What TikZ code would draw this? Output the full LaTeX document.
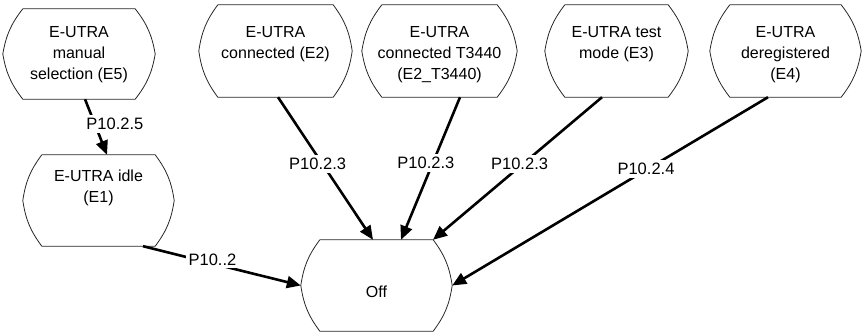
\documentclass[tikz,border=0pt]{standalone}
\usepackage{fontspec}
\setmainfont{Liberation Sans}
\usetikzlibrary{positioning, arrows.meta}

% outline of a state: flat top and bottom, bulging sides
\newcommand{\stateshape}[2]{%
  \draw[outline] ([xshift=#2]#1.north west) -- ([xshift=-#2]#1.north east)
    to[bend left=14] (#1.east) to[bend left=14] ([xshift=-#2]#1.south east)
    -- ([xshift=#2]#1.south west) to[bend left=14] (#1.west)
    to[bend left=14] ([xshift=#2]#1.north west);}

\begin{document}
\begin{tikzpicture}[
    x=1pt, y=-1pt,
    state/.style={inner sep=0pt, minimum height=91pt},
    outline/.style={line width=0.8pt, draw=black!85, line join=round},
    txt/.style={font=\fontsize{16}{21}\selectfont, align=center, anchor=north, inner sep=0pt},
    lbl/.style={font=\fontsize{16.5}{20}\selectfont, fill=white, inner sep=3pt},
    arr/.style={-{Triangle[length=14pt, width=12pt]}, line width=2.6pt}
]
\useasboundingbox (0,0) rectangle (862,333);

\node[state, minimum width=152pt, minimum height=90pt] (e5)  at (79,54) {};
\node[state, minimum width=151pt]                     (e1)  at (98.5,200.5) {};
\node[state, minimum width=153pt, minimum height=92pt] (e2)  at (275.5,51) {};
\node[state, minimum width=155pt, minimum height=92pt] (e2t) at (439.5,51) {};
\node[state, minimum width=143pt, minimum height=92pt] (e3)  at (616.5,51) {};
\node[state, minimum width=151pt, minimum height=92pt] (e4)  at (785.5,51) {};
\node[state, minimum width=151pt]                     (off) at (376.5,285.5) {};

\stateshape{e5}{20pt}
\stateshape{e1}{19pt}
\stateshape{e2}{19pt}
\stateshape{e2t}{20pt}
\stateshape{e3}{20pt}
\stateshape{e4}{20pt}
\stateshape{off}{19pt}

\node[txt, below=17pt of e5.north]  (e5txt)  {E-UTRA\\manual\\selection (E5)};
\node[txt, below=15pt of e1.north]  (e1txt)  {E-UTRA idle\\(E1)};
\node[txt, below=21pt of e2.north]  (e2txt)  {E-UTRA\\connected (E2)};
\node[txt, below=21pt of e2t.north] (e2ttxt) {E-UTRA\\connected T3440\\(E2\_T3440)};
\node[txt, below=21pt of e3.north]  (e3txt)  {E-UTRA test\\mode (E3)};
\node[txt, below=21pt of e4.north]  (e4txt)  {E-UTRA\\deregistered\\(E4)};
\node[txt, anchor=base] (offtxt) at ([yshift=-11.5pt]off.center) {Off};

\draw[arr] ([xshift=6pt]e5.south) -- node[lbl, pos=0.45, xshift=20pt]{P10.2.5} ([xshift=8.5pt]e1.north);
\draw[arr] ([xshift=44.5pt]e1.south) -- node[lbl, pos=0.44, yshift=4pt]{P10..2} (off.west);
\draw[arr] ([xshift=2.5pt]e2.south) -- node[lbl, pos=0.47, xshift=-5pt]{P10.2.3} ([xshift=-3.5pt]off.north);
\draw[arr] ([xshift=20.5pt]e2t.south) -- node[lbl, pos=0.46, xshift=-7pt]{P10.2.3} ([xshift=24.5pt]off.north);
\draw[arr] ([xshift=-14.5pt]e3.south) -- node[lbl, pos=0.47, xshift=-3pt]{P10.2.3} ([xshift=56.5pt]off.north);
\draw[arr] ([xshift=-17.5pt]e4.south) -- node[lbl, pos=0.38, xshift=-2pt]{P10.2.4} (off.east);
\end{tikzpicture}
\end{document}
